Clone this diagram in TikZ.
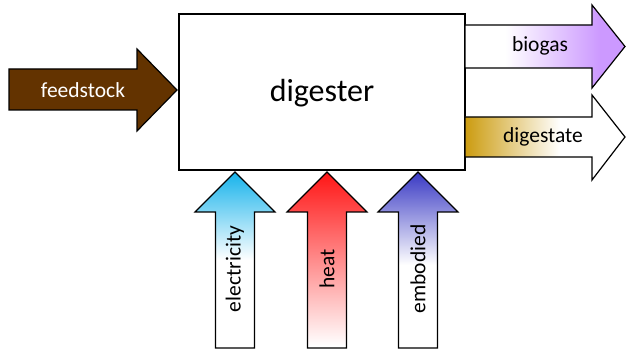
\documentclass[tikz,border=0pt]{standalone}
\usepackage{fontspec}
\setmainfont{Carlito}

\definecolor{feedbrown}{RGB}{99,51,0}
\definecolor{biopurple}{RGB}{204,153,255}
\definecolor{digestgold}{RGB}{204,156,16}
\definecolor{eleccyan}{RGB}{20,178,235}
\definecolor{heatred}{RGB}{255,20,20}
\definecolor{embblue}{RGB}{55,55,195}

\begin{document}
\begin{tikzpicture}[x=1pt,y=1pt,
    block/.style={draw=black, line width=1.2pt, line join=miter},
    flowlabel/.style={font=\fontsize{21.5}{26}\selectfont}]

    % Page size of the reference
    \useasboundingbox (0,0) rectangle (627,351);

    % The digester box
    \draw[block, fill=white] (179,181) rectangle (465,337);
    \node[font=\fontsize{32}{38}\selectfont] (digester) at (322,258) {digester};

    % Feedstock arrow coming in from the left
    \draw[block, fill=feedbrown] (9,282) -- (137,282) -- (137,302) -- (177,261)
        -- (137,220) -- (137,241) -- (9,241) -- cycle;
    \node[flowlabel, text=white] (feedstock) at (83,261) {feedstock};

    % Biogas arrow going out on the right (white to purple)
    \def\biogaspath{(465,326) -- (592,326) -- (592,346) -- (625,304.5)
        -- (592,263) -- (592,283) -- (465,283) -- cycle}
    \fill[white] \biogaspath;
    \begin{scope}
        \clip \biogaspath;
        \shade[left color=white, right color=biopurple] (505,260) rectangle (600,350);
        \fill[biopurple] (600,260) rectangle (627,350);
    \end{scope}
    \draw[block] \biogaspath;
    \node[flowlabel] (biogas) at (540,305) {biogas};

    % Digestate arrow going out on the right (gold to white)
    \def\digestpath{(465,234) -- (592,234) -- (592,256) -- (625,214)
        -- (592,171) -- (592,194) -- (465,194) -- cycle}
    \fill[white] \digestpath;
    \begin{scope}
        \clip \digestpath;
        \shade[left color=digestgold, right color=white] (465,170) rectangle (560,257);
    \end{scope}
    \draw[block] \digestpath;
    \node[flowlabel] (digestate) at (543,214) {digestate};

    % Inputs from below: electricity, heat, embodied
    \foreach \cx/\col/\fade/\txt in {235/eleccyan/91/electricity,
                                     327/heatred/5/heat,
                                     418/embblue/86/embodied} {
        \def\uppath{(\cx-19.5,3) -- (\cx+19.5,3) -- (\cx+19.5,139) -- (\cx+40,139)
            -- (\cx,179) -- (\cx-40,139) -- (\cx-19.5,139) -- cycle}
        \fill[white] \uppath;
        \begin{scope}
            \clip \uppath;
            \shade[top color=\col, bottom color=white] (\cx-40,\fade) rectangle (\cx+40,180);
        \end{scope}
        \draw[block] \uppath;
        \node[flowlabel, rotate=90] (\txt) at (\cx,82) {\txt};
    }

\end{tikzpicture}
\end{document}
